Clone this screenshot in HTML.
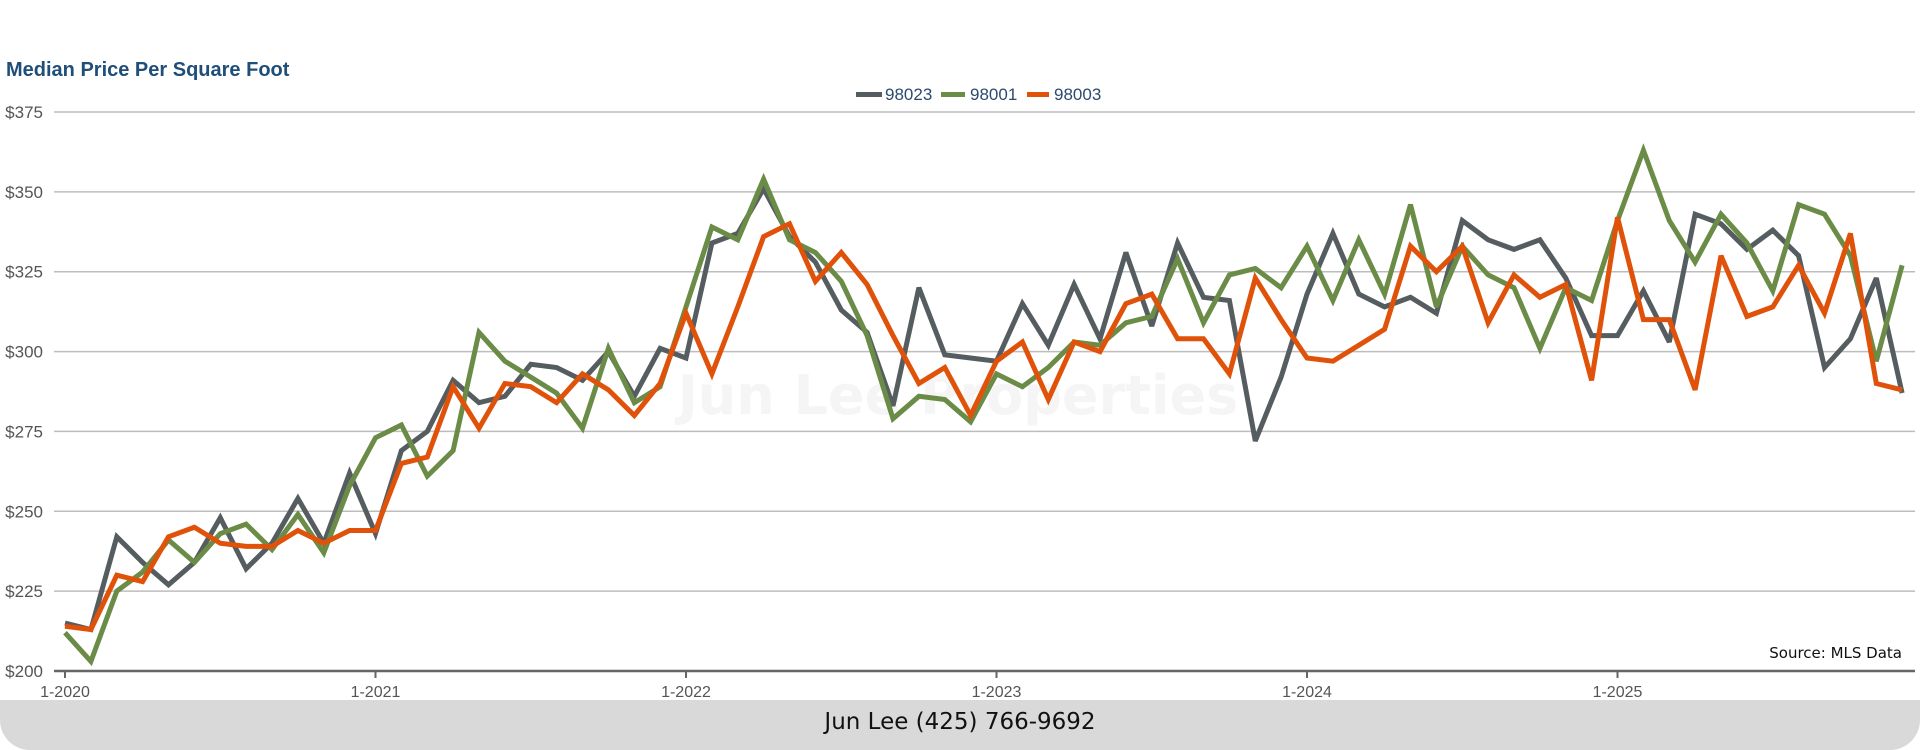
<!DOCTYPE html>
<html><head><meta charset="utf-8">
<style>
html,body{margin:0;padding:0;background:#fff;}
body{width:1920px;height:750px;overflow:hidden;position:relative;font-family:"Liberation Sans",Arial,sans-serif;}
#footer{position:absolute;left:0;top:700px;width:1920px;height:50px;background:#d9d9d9;border-radius:0 0 30px 30px;text-align:center;line-height:44px;font-size:23px;color:#111;font-family:"DejaVu Sans","Liberation Sans",sans-serif;}
</style></head>
<body>
<svg id="chart" width="1920" height="700" style="position:absolute;left:0;top:0" xmlns="http://www.w3.org/2000/svg">
<text x="6" y="76" font-size="20" font-weight="bold" fill="#1f4e79" font-family="Liberation Sans, sans-serif">Median Price Per Square Foot</text>
<text x="958" y="414" text-anchor="middle" font-size="54" font-weight="bold" fill="#f5f5f5" font-family="DejaVu Sans, sans-serif">Jun Lee Properties</text>
<g id="grid"></g><g id="lines"></g><g id="axes"></g>
<g>
<rect x="856" y="92" width="26" height="5" fill="#555d60"/>
<text x="885" y="100" font-size="17" fill="#2c4a6e">98023</text>
<rect x="941" y="92" width="24" height="5" fill="#6a8c47"/>
<text x="970" y="100" font-size="17" fill="#2c4a6e">98001</text>
<rect x="1027" y="92" width="22" height="5" fill="#e0520a"/>
<text x="1054" y="100" font-size="17" fill="#2c4a6e">98003</text>
</g>
<text x="1902" y="658" text-anchor="end" font-size="15" fill="#111" font-family="DejaVu Sans, sans-serif">Source: MLS Data</text>
</svg>
<div id="footer">Jun Lee (425) 766-9692</div>
<script>
const yTicks=[200,225,250,275,300,325,350,375];
const yTickLabels=["$200","$225","$250","$275","$300","$325","$350","$375"];
const xTickMonths=[0,12,24,36,48,60];
const xTickLabels=["1-2020","1-2021","1-2022","1-2023","1-2024","1-2025"];
const s98023=[215,213,242,234,227,234,248,232,240,254,240,262,243,269,275,291,284,286,296,295,291,300,286,301,298,334,337,351,336,328,313,306,283,320,299,298,297,315,302,321,304,331,308,334,317,316,272,292,318,337,318,314,317,312,341,335,332,335,323,305,305,319,303,343,340,332,338,330,295,304,323,287];
const s98001=[212,203,225,231,241,234,243,246,238,249,237,258,273,277,261,269,306,297,292,287,276,301,284,289,314,339,335,354,335,331,322,305,279,286,285,278,293,289,295,303,302,309,311,329,309,324,326,320,333,316,335,318,346,314,333,324,320,301,320,316,341,363,341,328,343,334,319,346,343,330,297,327];
const s98003=[214,213,230,228,242,245,240,239,239,244,240,244,244,265,267,289,276,290,289,284,293,288,280,290,312,293,314,336,340,322,331,321,305,290,295,280,297,303,285,303,300,315,318,304,304,293,323,310,298,297,302,307,333,325,333,309,324,317,321,291,342,310,310,288,330,311,314,327,312,337,290,288];
const NS="http://www.w3.org/2000/svg";
const X0=65,XSTEP=25.875,Y0=671,YTOP=112,VMIN=200,VMAX=375,XL=54,XR=1915;
function xs(m){return X0+m*XSTEP;}
function ys(v){return Y0-(v-VMIN)*(Y0-YTOP)/(VMAX-VMIN);}
function mk(tag,attrs,parent){const e=document.createElementNS(NS,tag);for(const k in attrs)e.setAttribute(k,attrs[k]);parent.appendChild(e);return e;}
const grid=document.getElementById('grid'),axes=document.getElementById('axes'),lines=document.getElementById('lines');
yTicks.forEach((v,i)=>{
  if(i>0){const g=mk('line',{x1:XL,x2:XR,y1:ys(v),y2:ys(v),stroke:'#bdbdbd','stroke-width':1.5},grid);
  
  }
  const t=mk('text',{x:43,y:ys(v)+6,'text-anchor':'end','font-size':17,fill:'#555'},axes);
  t.textContent=yTickLabels[i];
  
  
});
const base=mk('line',{x1:XL,x2:XR,y1:Y0,y2:Y0,stroke:'#666','stroke-width':2.5},axes);


xTickMonths.forEach((m,i)=>{
  const tk=mk('line',{x1:xs(m),x2:xs(m),y1:Y0,y2:Y0+7,stroke:'#666','stroke-width':2},axes);
  
  
  const t=mk('text',{x:xs(m),y:Y0+26,'text-anchor':'middle','font-size':16,fill:'#555'},axes);
  t.textContent=xTickLabels[i];
  
  
});
function draw(arr,color,name){
  const d=arr.map((v,i)=>(i?'L':'M')+xs(i).toFixed(1)+','+ys(v).toFixed(1)).join(' ');
  const p=mk('path',{d:d,fill:'none',stroke:color,'stroke-width':5,'stroke-linejoin':'miter','stroke-miterlimit':3},lines);
  
  
}
draw(s98023,'#555d60','line-98023');
draw(s98001,'#6a8c47','line-98001');
draw(s98003,'#e0520a','line-98003');
</script>
</body></html>
